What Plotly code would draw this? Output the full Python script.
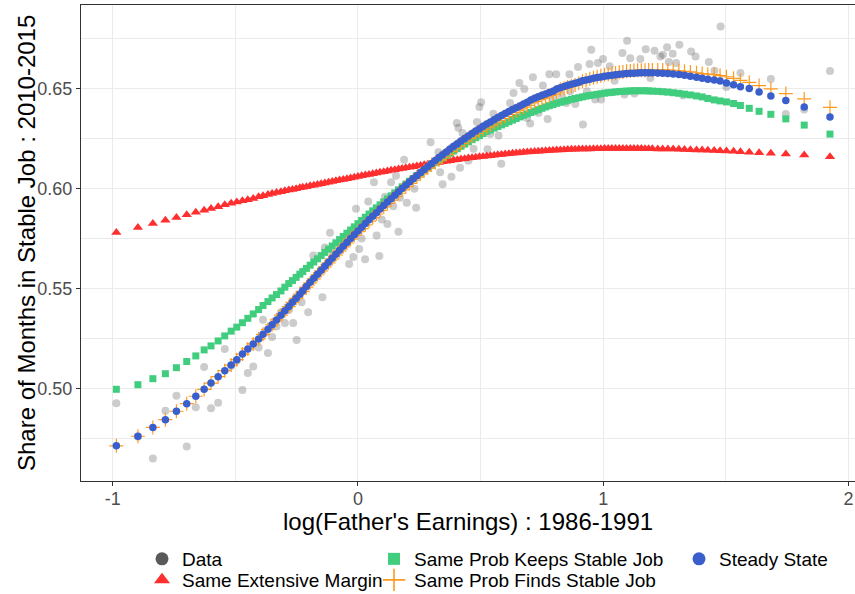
import plotly.graph_objects as go

# ---------------- data ----------------
model_x = [
    -0.985, -0.897, -0.836, -0.785, -0.740, -0.698, -0.661, -0.627, -0.599, -0.570,
    -0.543, -0.517, -0.494, -0.471, -0.449, -0.427, -0.405, -0.387, -0.367, -0.350,
    -0.332, -0.314, -0.298, -0.282, -0.267, -0.252, -0.237,
    -0.225, -0.210, -0.195, -0.180, -0.165, -0.150, -0.135, -0.120, -0.105, -0.090,
    -0.075, -0.060, -0.045, -0.030, -0.015, 0.000, 0.015, 0.030, 0.045, 0.060,
    0.075, 0.090, 0.105, 0.120, 0.135, 0.150, 0.165, 0.180, 0.195, 0.210,
    0.225, 0.240, 0.255, 0.270, 0.285, 0.300, 0.315, 0.330, 0.345, 0.360,
    0.375, 0.390, 0.405, 0.420, 0.435, 0.450, 0.465, 0.480, 0.495, 0.510,
    0.525, 0.540, 0.555, 0.570, 0.585, 0.600, 0.615, 0.630, 0.645, 0.660,
    0.675, 0.690, 0.705, 0.720, 0.735, 0.750, 0.765, 0.780, 0.795, 0.810,
    0.825, 0.840, 0.855, 0.870, 0.885, 0.900, 0.915, 0.930, 0.945, 0.960,
    0.975, 0.990, 1.005, 1.020, 1.035, 1.050, 1.065, 1.080, 1.095, 1.110,
    1.125, 1.140, 1.155, 1.170, 1.185, 1.200,
    1.222, 1.242, 1.263, 1.285, 1.308, 1.331, 1.355, 1.380, 1.403, 1.426,
    1.452, 1.476, 1.502, 1.531, 1.559, 1.595, 1.635, 1.683, 1.744, 1.819, 1.924,
]

steady_state = [
    .4714, .4762, .4806, .4845, .4887, .4925, .4962, .4997, .5028, .5060,
    .5090, .5118, .5145, .5173, .5199, .5224, .5249, .5272, .5297, .5320,
    .5344, .5368, .5390, .5411, .5432, .5452, .5473,
    .5490, .5511, .5532, .5552, .5573, .5593, .5613, .5633, .5653, .5673,
    .5693, .5713, .5732, .5751, .5770, .5789, .5808, .5827, .5845, .5863,
    .5881, .5899, .5917, .5934, .5951, .5968, .5985, .6002, .6018, .6034,
    .6050, .6066, .6082, .6097, .6112, .6127, .6142, .6157, .6171, .6185,
    .6199, .6213, .6226, .6239, .6252, .6265, .6277, .6289, .6301, .6313,
    .6324, .6335, .6346, .6357, .6367, .6377, .6387, .6397, .6406, .6415,
    .6424, .6433, .6445, .6453, .6461, .6468, .6475, .6482, .6489, .6500,
    .6506, .6512, .6518, .6523, .6528, .6533, .6541, .6545, .6549, .6553,
    .6557, .6560, .6563, .6566, .6569, .6571, .6573, .6575, .6577, .6578,
    .6579, .6580, .6581, .6581, .6581, .6581,
    .6580, .6579, .6577, .6575, .6572, .6568, .6564, .6559, .6554, .6549,
    .6545, .6540, .6530, .6521, .6511, .6502, .6485, .6465, .6442, .6410, .6360,
]

same_prob_finds = [
    .4714, .4762, .4806, .4845, .4887, .4925, .4962, .4997, .5028, .5060,
    .5090, .5118, .5145, .5173, .5199, .5224, .5249, .5272, .5297, .5320,
    .5344, .5368, .5390, .5411, .5432, .5452, .5473,
    .5487, .5508, .5529, .5549, .5570, .5590, .5610, .5630, .5650, .5670,
    .5690, .5710, .5729, .5748, .5767, .5786, .5801, .5820, .5838, .5856,
    .5874, .5892, .5910, .5927, .5944, .5961, .5978, .5995, .6011, .6027,
    .6043, .6059, .6075, .6090, .6105, .6120, .6130, .6145, .6159, .6173,
    .6187, .6201, .6214, .6227, .6240, .6253, .6265, .6277, .6289, .6298,
    .6309, .6320, .6331, .6342, .6352, .6362, .6372, .6382, .6391, .6400,
    .6409, .6418, .6430, .6438, .6446, .6453, .6460, .6467, .6474, .6485,
    .6498, .6504, .6510, .6515, .6520, .6529, .6539, .6545, .6551, .6556,
    .6561, .6566, .6571, .6574, .6577, .6580, .6583, .6585, .6588, .6590,
    .6592, .6593, .6594, .6594, .6595, .6595,
    .6595, .6595, .6594, .6593, .6591, .6588, .6585, .6581, .6577, .6574,
    .6572, .6567, .6561, .6553, .6543, .6533, .6517, .6500, .6477, .6450, .6408,
]

same_prob_keeps = [
    .4997, .5020, .5050, .5075, .5105, .5136, .5164, .5194, .5214, .5239,
    .5264, .5288, .5308, .5330, .5352, .5374, .5396, .5416, .5436, .5454,
    .5471, .5489, .5508, .5526, .5541, .5557, .5573,
    .5586, .5602, .5618, .5634, .5650, .5666, .5682, .5698, .5714, .5730,
    .5746, .5762, .5778, .5794, .5810, .5826, .5842, .5858, .5874, .5890,
    .5905, .5920, .5935, .5950, .5965, .5980, .5995, .6010, .6024, .6038,
    .6052, .6066, .6079, .6092, .6105, .6118, .6131, .6143, .6155, .6167,
    .6178, .6189, .6201, .6213, .6224, .6235, .6246, .6256, .6266, .6277,
    .6287, .6295, .6304, .6312, .6320, .6328, .6336, .6344, .6352, .6360,
    .6368, .6375, .6382, .6389, .6396, .6403, .6410, .6416, .6422, .6428,
    .6433, .6438, .6443, .6448, .6452, .6456, .6460, .6464, .6467, .6470,
    .6473, .6476, .6479, .6481, .6483, .6485, .6487, .6488, .6489, .6490,
    .6491, .6491, .6491, .6491, .6490, .6489,
    .6488, .6486, .6484, .6481, .6478, .6474, .6470, .6465, .6460, .6452,
    .6445, .6440, .6435, .6427, .6417, .6403, .6388, .6373, .6350, .6319, .6274,
]

same_extensive_margin = [
    .5781, .5806, .5827, .5843, .5857, .5870, .5883, .5893, .5902, .5910,
    .5920, .5928, .5934, .5940, .5946, .5952, .5960, .5966, .5972, .5977,
    .5982, .5986, .5990, .5994, .5997, .6001, .6005,
    .6008, .6011, .6015, .6018, .6022, .6026, .6029, .6033, .6037, .6040,
    .6044, .6047, .6051, .6054, .6058, .6062, .6065, .6069, .6072, .6076,
    .6079, .6083, .6086, .6089, .6093, .6096, .6099, .6102, .6105, .6108,
    .6111, .6114, .6117, .6120, .6123, .6126, .6129, .6132, .6135, .6138,
    .6141, .6144, .6146, .6149, .6151, .6154, .6156, .6158, .6160, .6162,
    .6164, .6166, .6168, .6170, .6172, .6174, .6176, .6178, .6179, .6181,
    .6183, .6184, .6186, .6187, .6188, .6190, .6191, .6192, .6193, .6194,
    .6195, .6196, .6197, .6198, .6198, .6199, .6199, .6200, .6200, .6201,
    .6201, .6201, .6202, .6202, .6202, .6202, .6202, .6202, .6202, .6202,
    .6202, .6202, .6202, .6201, .6201, .6201,
    .6200, .6200, .6199, .6199, .6198, .6197, .6196, .6195, .6194, .6193,
    .6192, .6191, .6190, .6188, .6186, .6183, .6181, .6178, .6174, .6169, .6160,
]

data_x = [
    -0.985, -0.897, -0.836, -0.785, -0.740, -0.698, -0.661, -0.627, -0.599, -0.570,
    -0.543, -0.517, -0.494, -0.471, -0.449, -0.427, -0.405, -0.387, -0.367, -0.350,
    -0.332, -0.314, -0.298, -0.282, -0.264, -0.250, -0.230, -0.203, -0.182, -0.145,
    -0.135, -0.114, -0.101, -0.036, -0.019, -0.008, 0.005, 0.015, 0.029, 0.042,
    0.065, 0.076, 0.087, 0.097, 0.110, 0.120, 0.135, 0.144, 0.155, 0.165,
    0.171, 0.188, 0.199, 0.230, 0.237, 0.278, 0.296, 0.328, 0.335, 0.345,
    0.381, 0.403, 0.409, 0.416, 0.426, 0.450, 0.471, 0.485, 0.495, 0.502,
    0.528, 0.539, 0.552, 0.573, 0.584, 0.620, 0.634, 0.658, 0.678, 0.689,
    0.702, 0.713, 0.736, 0.754, 0.773, 0.780, 0.797, 0.808, 0.831, 0.849,
    0.862, 0.865, 0.886, 0.897, 0.917, 0.933, 0.944, 0.951, 0.967, 0.978,
    0.991, 0.999, 1.026, 1.046, 1.078, 1.086, 1.097, 1.110, 1.127, 1.151,
    1.173, 1.192, 1.209, 1.233, 1.243, 1.260, 1.267, 1.283, 1.297, 1.310,
    1.325, 1.358, 1.376, 1.430, 1.453, 1.478, 1.502, 1.559, 1.683, 1.744,
    1.819, 1.924,
]

data_y = [
    .4927, .4760, .4651, .4889, .4964, .4711, .4907, .5108, .4902, .4930,
    .5198, .5113, .5140, .4993, .5078, .5111, .5206, .5345, .5178, .5258,
    .5311, .5382, .5329, .5394, .5329, .5244, .5432, .5382, .5666, .5457,
    .5706, .5780, .5678, .5624, .5659, .5900, .5699, .5751, .5648, .5937,
    .6033, .5767, .5664, .5847, .5960, .5824, .6033, .5913, .6066, .5785,
    .5955, .6146, .5930, .6000, .5905, .6105, .6233, .6183, .6083, .6023,
    .6060, .6329, .6306, .6106, .6279, .6141, .6201, .6334, .6409, .6433,
    .6198, .6275, .6376, .6267, .6126, .6430, .6480, .6530, .6500, .6355,
    .6327, .6558, .6380, .6517, .6350, .6573, .6455, .6573, .6463, .6430,
    .6573, .6488, .6425, .6610, .6322, .6488, .6625, .6696, .6447, .6630,
    .6447, .6650, .6613, .6541, .6680, .6472, .6741, .6654, .6477, .6650,
    .6699, .6555, .6691, .6662, .6671, .6709, .6635, .6676, .6630, .6721,
    .6467, .6687, .6662, .6635, .6591, .6812, .6510, .6580, .6550, .6375,
    .6397, .6590,
]

series_names = ["Data", "Same Extensive Margin", "Same Prob Keeps Stable Job",
                "Same Prob Finds Stable Job", "Steady State"]
x_title = "log(Father's Earnings) : 1986-1991"
y_title = "Share of Months in Stable Job : 2010-2015"
x_ticks = [-1, 0, 1, 2]
x_tick_labels = ["-1", "0", "1", "2"]
y_ticks = [0.50, 0.55, 0.60, 0.65]
y_tick_labels = ["0.50", "0.55", "0.60", "0.65"]

# ---------------- styles ----------------
FONT = "Liberation Sans, Arial, sans-serif"
RED = "#FF2F2F"
GREEN = "#40CD7E"
ORANGE = "#FF9A1F"
BLUE = "#3A5FCD"
GRID = "#EBEBEB"
W, H = 855, 594

fig = go.Figure()

fig.add_trace(go.Scatter(x=data_x, y=data_y, mode="markers", showlegend=False,
                         marker=dict(size=8, color="rgba(85,85,85,0.3)", line=dict(width=0)),
                         hoverinfo="skip"))
fig.add_trace(go.Scatter(x=model_x, y=same_extensive_margin, mode="markers", showlegend=False,
                         marker=dict(symbol="triangle-up", size=9, color=RED, line=dict(width=0))))
fig.add_trace(go.Scatter(x=model_x, y=same_prob_keeps, mode="markers", showlegend=False,
                         marker=dict(symbol="square", size=7, color=GREEN, line=dict(width=0))))
fig.add_trace(go.Scatter(x=model_x, y=same_prob_finds, mode="markers", showlegend=False,
                         marker=dict(symbol="cross-thin", size=10, color=ORANGE,
                                     line=dict(width=1.2, color=ORANGE))))
fig.add_trace(go.Scatter(x=model_x, y=steady_state, mode="markers", showlegend=False,
                         marker=dict(symbol="circle", size=7.5, color=BLUE, line=dict(width=0))))

# legend-only entries, one legend each for exact placement
legend_specs = [
    (series_names[0], dict(symbol="circle", size=13, color="#595959"), "legend", 162, 559),
    (series_names[1], dict(symbol="triangle-up", size=14, color=RED), "legend2", 162, 580),
    (series_names[2], dict(symbol="square", size=12, color=GREEN), "legend3", 394, 559),
    (series_names[3], dict(symbol="cross-thin", size=16, color=ORANGE,
                           line=dict(width=1.6, color=ORANGE)), "legend4", 394, 580),
    (series_names[4], dict(symbol="circle", size=13, color=BLUE), "legend5", 699, 559),
]
legend_layout = {}
for name, mk, lg, px, py in legend_specs:
    fig.add_trace(go.Scatter(x=[None], y=[None], mode="markers", name=name, marker=mk,
                             legend=lg, showlegend=True))
    legend_layout[lg] = dict(
        x=(px - 20) / W, y=1 - py / H, xref="container", yref="container",
        xanchor="left", yanchor="middle", bgcolor="rgba(0,0,0,0)",
        borderwidth=0, font=dict(family=FONT, size=19, color="black"),
        itemsizing="trace", tracegroupgap=0,
    )

fig.update_layout(
    width=W, height=H,
    margin=dict(l=81, r=0, t=5, b=113, autoexpand=False),
    paper_bgcolor="white", plot_bgcolor="white",
    font=dict(family=FONT, color="black"),
    annotations=[
        dict(text=x_title, xref="paper", yref="paper", x=0.5, y=-(521 - 481) / 476,
             xanchor="center", yanchor="middle", showarrow=False,
             font=dict(family=FONT, size=24, color="black")),
        dict(text=y_title, xref="paper", yref="paper", x=-(81 - 26) / 774, y=0.5,
             xanchor="center", yanchor="middle", showarrow=False, textangle=-90,
             font=dict(family=FONT, size=24, color="black")),
    ],
    **legend_layout,
)

fig.update_xaxes(
    range=[-1.129, 2.026], tickvals=x_ticks, ticktext=x_tick_labels,
    tickfont=dict(family=FONT, size=18, color="#4D4D4D"),
    ticks="outside", ticklen=4, tickcolor="#333333", tickwidth=1,
    ticklabelstandoff=-3,
    showgrid=True, gridcolor=GRID, gridwidth=1, zeroline=False,
    minor=dict(tickvals=[-0.5, 0.5, 1.5], showgrid=True, gridcolor=GRID, gridwidth=1, ticks=""),
    showline=True, linecolor="#333333", linewidth=1.2, mirror=True,
    automargin=False,
)
fig.update_yaxes(
    range=[0.4538, 0.6920], tickvals=y_ticks, ticktext=y_tick_labels,
    tickfont=dict(family=FONT, size=18, color="#4D4D4D"),
    ticks="outside", ticklen=4, tickcolor="#333333", tickwidth=1,
    showgrid=True, gridcolor=GRID, gridwidth=1, zeroline=False,
    minor=dict(tickvals=[0.475, 0.525, 0.575, 0.625, 0.675], showgrid=True,
               gridcolor=GRID, gridwidth=1, ticks=""),
    showline=True, linecolor="#333333", linewidth=1.2, mirror=False,
    automargin=False,
)

fig.write_html("out.html", config={"displayModeBar": False},
               post_script="document.body.style.margin='0';")
